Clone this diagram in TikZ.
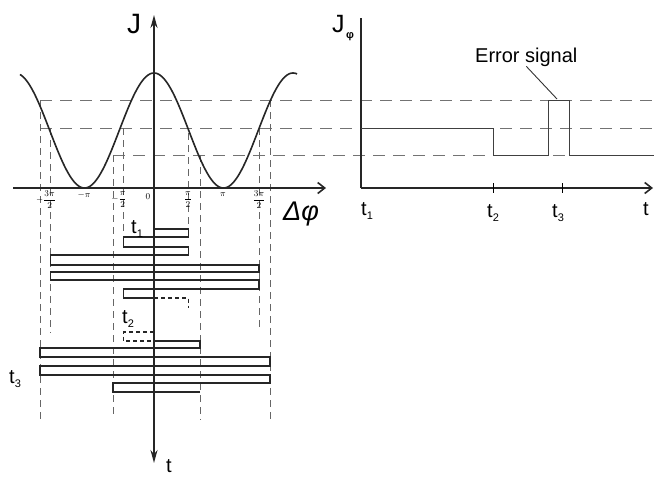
\documentclass[tikz,border=0pt]{standalone}
\usepackage{fontspec}
\setmainfont{Liberation Sans}
\usetikzlibrary{arrows.meta}
\newcommand\mytsub[1]{t\raisebox{-4pt}{\fontsize{11}{11}\selectfont #1}}
\newcommand\myfr[2]{$\displaystyle\frac{#1}{#2}$}
\begin{document}
\begin{tikzpicture}[x=1pt,y=-1pt,
  axis/.style={line width=2pt, black!85},
  curve/.style={line width=1.6pt, black!85},
  lvl/.style={black!55, line width=1pt, dash pattern=on 12pt off 8pt},
  vdash/.style={black!60, line width=1pt, dash pattern=on 7pt off 5pt},
  meander/.style={line width=1.4pt, black!85, line join=miter},
  mdash/.style={meander, dash pattern=on 4pt off 3pt},
  signal/.style={line width=1pt, black!75},
  tlab/.style={anchor=base west, inner sep=0pt, font=\fontsize{20}{24}\selectfont},
  ticklab/.style={inner sep=0pt, font=\fontsize{9.5}{11}\selectfont},
  up/.tip={Stealth[length=13pt,width=7pt]},
  barb/.tip={Straight Barb[length=7pt,width=11pt,line width=1.6pt]}
]
\useasboundingbox (0,0) rectangle (654,477);

% ---------- left plot ----------
% level lines
\draw[lvl] (40,100) -- (654,100);
\draw[lvl] (40,128) -- (654,128);
\draw[lvl] (113,155) -- (654,155);

% vertical dashed lines
\draw[vdash] (40,100) -- (40,420);
\draw[vdash] (50.5,128) -- (50.5,333);
\draw[vdash] (113,155) -- (113,417);
\draw[vdash] (123.5,128) -- (123.5,237);
\draw[vdash] (188.5,133) -- (188.5,229);
\draw[vdash] (200,155) -- (200,420);
\draw[vdash] (259,128) -- (259,330);
\draw[vdash] (270,100) -- (270,420);

% curve
\draw[curve] plot[domain=20:297, samples=220, smooth] (\x, {188 - 57.5*(1+cos((\x-154)/69.5*180))});

% axes
\draw[axis, up-up] (154,15) -- (154,463);
\draw[axis, -barb] (13,188) -- (326,188);

% meander 1
\draw[meander] (154,229) -- (188.5,229) -- (188.5,237) -- (123.5,237) -- (123.5,247)
  -- (188.5,247) -- (188.5,255) -- (50.5,255) -- (50.5,265) -- (259,265) -- (259,272)
  -- (50.5,272) -- (50.5,280) -- (259,280) -- (259,289) -- (123.5,289) -- (123.5,298) -- (154,298);
\draw[mdash] (154,298) -- (188.5,298) -- (188.5,308);

% meander 2
\draw[mdash] (154,332) -- (123.5,332) -- (123.5,341) -- (154,341);
\draw[meander] (154,341) -- (200,341) -- (200,348) -- (40,348) -- (40,357) -- (270,357)
  -- (270,366) -- (40,366) -- (40,375) -- (270,375) -- (270,383) -- (113,383) -- (113,392) -- (200,392);

% labels left
\node[tlab, font=\fontsize{28}{30}\selectfont] (J) at (127,33) {J};
\node[tlab, font=\fontsize{27}{30}\selectfont\itshape] (dphi) at (283,220) {Δφ};
\node[tlab] (tax) at (166,472) {t};
\node[tlab] (t1l) at (131,233) {\mytsub{1}};
\node[tlab] (t2l) at (122,323) {\mytsub{2}};
\node[tlab] (t3l) at (9,383) {\mytsub{3}};

\node[ticklab] (m3p) at (46,200) {$-$\myfr{3\pi}{2}};
\node[ticklab] (mp) at (84,195) {$-\pi$};
\node[ticklab] (mp2) at (119,200) {$-$\myfr{\pi}{2}};
\node[ticklab] (z) at (148,197) {$0$};
\node[ticklab] (pp2) at (188,200) {\myfr{\pi}{2}};
\node[ticklab] (pp) at (223,195) {$\pi$};
\node[ticklab] (p3p) at (259,200) {\myfr{3\pi}{2}};

% ---------- right plot ----------
\draw[axis] (361,18) -- (361,188);
\draw[axis, -barb] (361,188) -- (653,188);
\draw[line width=1pt] (493,183) -- (493,193);
\draw[line width=1pt] (562,183) -- (562,193);

\draw[signal] (361,128) -- (493,128) -- (493,155) -- (548,155) -- (548,100)
  -- (569,100) -- (569,155) -- (654,155);

\node[tlab, font=\fontsize{25}{28}\selectfont] (Jr) at (332,32) {J};
\node[tlab, font=\fontsize{11}{12}\selectfont\bfseries] (Jrs) at (346,38) {φ};
\node[tlab] (t1r) at (361,215) {\mytsub{1}};
\node[tlab] (t2r) at (487,217) {\mytsub{2}};
\node[tlab] (t3r) at (552,217) {\mytsub{3}};
\node[tlab] (tr) at (643,215) {t};

\node[tlab, font=\fontsize{20}{24}\selectfont] (err) at (475,62) {Error signal};
\coordinate (errtip) at (557,99);
\draw[line width=0.9pt, black!80] (err.south) -- (errtip);
\end{tikzpicture}
\end{document}
